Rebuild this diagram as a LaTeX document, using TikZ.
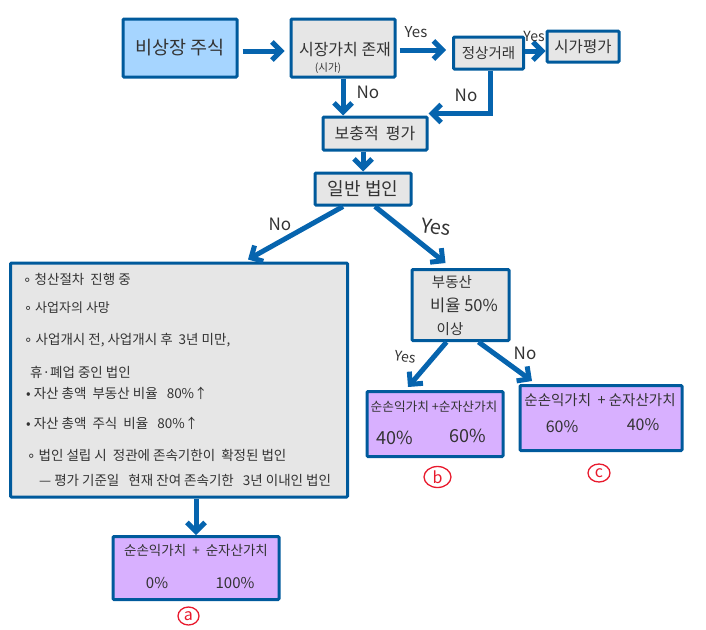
\documentclass[tikz,border=0pt]{standalone}
\usepackage{fontspec}
\setmainfont{Noto Sans CJK KR}
\newfontfamily\symfont{DejaVu Sans}
\usetikzlibrary{arrows.meta,shapes.geometric}
\usepackage{xcolor}
\definecolor{edgeblue}{HTML}{005A9C}
\definecolor{flowblue}{HTML}{0664AE}
\definecolor{startblue}{HTML}{A6D5FF}
\definecolor{boxgray}{HTML}{E6E6E6}
\definecolor{resultpurple}{HTML}{D8B0FF}
\definecolor{penink}{HTML}{333333}
\definecolor{markred}{HTML}{E8192C}
\newcommand{\ringdot}{{\symfont ∘}}
\tikzset{
    box/.style={draw=edgeblue,line width=3pt,rounded corners=1pt,fill=boxgray,text=penink,inner sep=0pt,align=center},
    startbox/.style={box,fill=startblue},
    resultbox/.style={box,fill=resultpurple},
    flow/.style={draw=flowblue,line width=5pt,-{Straight Barb[length=9pt,width=18pt]}},
    answer/.style={text=penink,inner sep=0pt,font=\fontsize{17}{19}\selectfont},
    smallanswer/.style={text=penink,inner sep=0pt,font=\fontsize{14}{16}\selectfont},
    item/.style={text=penink,inner sep=0pt,anchor=west,font=\fontsize{13.5}{15}\selectfont},
    restext/.style={text=penink,inner sep=0pt,font=\fontsize{15}{17}\selectfont},
    redmark/.style={draw=markred,text=markred,ellipse,line width=1.3pt,inner sep=0pt,font=\fontsize{16}{16}\selectfont}
}
\begin{document}
\begin{tikzpicture}[x=1pt,y=-1pt,>=latex]
            \useasboundingbox (0,0) rectangle (706,629);

            % draw the top row
            \node[startbox,minimum width=114pt,minimum height=58pt,font=\fontsize{18.5}{21}\selectfont] (unlisted) at (180,48) {비상장 주식};
            \node[box,minimum width=104pt,minimum height=58pt] (market) at (343,48) {};
            \node[text=penink,inner sep=0pt,font=\fontsize{16}{18}\selectfont] (markettext) at (345,50) {시장가치 존재};
            \node[text=penink,inner sep=0pt,font=\fontsize{10.5}{12}\selectfont] (marketprice) at (328,68) {(시가)};
            \node[box,minimum width=70pt,minimum height=32pt,font=\fontsize{14.5}{16}\selectfont] (trade) at (488.5,53) {정상거래};
            \node[box,minimum width=72pt,minimum height=31pt,font=\fontsize{15.5}{17}\selectfont] (quote) at (583,46.5) {시가평가};

            % draw the middle
            \node[box,minimum width=104pt,minimum height=33pt,font=\fontsize{16}{18}\selectfont] (supp) at (375,133.5) {보충적 \ 평가};
            \node[box,minimum width=96pt,minimum height=32pt,font=\fontsize{18}{20}\selectfont] (general) at (363,189) {일반 법인};

            % draw the list box
            \node[box,minimum width=337pt,minimum height=234pt] (special) at (179,380) {};
            \node[item] (l1) at (23,279) {\ringdot\ 청산절차 \ 진행 중};
            \node[item,font=\fontsize{13}{15}\selectfont] (l2) at (24,308) {\ringdot\ 사업자의 사망};
            \node[item] (l3) at (24,340) {\ringdot\ 사업개시 전, 사업개시 후 \ 3년 미만,};
            \node[item] (l4) at (30,372) {휴·폐업 중인 법인};
            \node[item] (l5) at (26,393) {• 자산 총액 \ 부동산 비율 \ \ 80\%↑};
            \node[item] (l6) at (26,423) {• 자산 총액 \ 주식 \ 비율 \ \ 80\%↑};
            \node[item] (l7) at (27,455) {\ringdot\ 법인 설립 시 \ 정관에 존속기한이 \ 확정된 법인};
            \node[item,font=\fontsize{13.5}{15}\selectfont] (l8) at (39,480) {— 평가 기준일 \ \ 현재 잔여 존속기한 \ \ 3년 이내인 법인};

            % draw the right hand box
            \node[box,minimum width=97pt,minimum height=71pt] (estate) at (460.5,305) {};
            \node[text=penink,inner sep=0pt,font=\fontsize{14.5}{16}\selectfont] (estateone) at (452,282) {부동산};
            \node[text=penink,inner sep=0pt,font=\fontsize{16.5}{18}\selectfont] (estatetwo) at (464,305) {비율 50\%};
            \node[text=penink,inner sep=0pt,font=\fontsize{14.5}{16}\selectfont] (estatethree) at (450,329) {이상};

            % draw the results
            \node[resultbox,minimum width=166pt,minimum height=63pt] (resa) at (196,568) {};
            \node[resultbox,minimum width=136pt,minimum height=65pt] (resb) at (435,424) {};
            \node[resultbox,minimum width=162pt,minimum height=65pt] (resc) at (601,418) {};

            \node[restext,font=\fontsize{13.5}{15}\selectfont] (atitle) at (196,550) {순손익가치 \ + \ 순자산가치};
            \node[restext] (aleft) at (157,583) {0\%};
            \node[restext] (aright) at (235,583) {100\%};
            \node[restext,font=\fontsize{12.7}{14}\selectfont] (btitle) at (434,407) {순손익가치 +순자산가치};
            \node[restext,font=\fontsize{18}{20}\selectfont] (bleft) at (395,438) {40\%};
            \node[restext,font=\fontsize{18}{20}\selectfont] (bright) at (468,436) {60\%};
            \node[restext,font=\fontsize{14.5}{16}\selectfont] (ctitle) at (600,400) {순손익가치 \ + 순자산가치};
            \node[restext,font=\fontsize{16}{18}\selectfont] (cleft) at (562,427) {60\%};
            \node[restext,font=\fontsize{16}{18}\selectfont] (cright) at (643,425) {40\%};

            % draw the red marks
            \node[redmark,minimum width=21pt,minimum height=18pt] (marka) at (188.5,616) {a};
            \node[redmark,minimum width=27pt,minimum height=21pt] (markb) at (437.5,477) {b};
            \node[redmark,minimum width=22pt,minimum height=18pt] (markc) at (599,473) {c};

            % draw the connectors
            \draw[flow] ([xshift=4pt,yshift=-3pt]unlisted.east) -- ([xshift=-5pt,yshift=-3pt]market.west);
            \draw[flow] ([xshift=3pt,yshift=-2pt]market.east) -- ([xshift=-6pt,yshift=3pt]trade.west);
            \draw[flow] ([yshift=2pt]trade.east) -- ([yshift=-4.5pt]quote.west);
            \draw[flow] (market.south) -- (market.south |- supp.north);
            \draw[flow] ([xshift=2pt]trade.south) |- ([yshift=2pt]supp.north east);
            \draw[flow] ([xshift=-12pt]supp.south) -- (general.north);
            \draw[flow] ([xshift=-20pt]general.south) -- ([xshift=69pt,yshift=2pt]special.north);
            \draw[flow] ([xshift=12pt]general.south) -- ([xshift=-15pt,yshift=5pt]estate.north);
            \draw[flow] ([xshift=-14pt]estate.south) -- ([xshift=-27pt,yshift=3pt]resb.north);
            \draw[flow] ([xshift=18pt]estate.south) -- ([xshift=-69pt,yshift=3pt]resc.north);
            \draw[flow] (resa.north |- special.south) -- (resa.north);

            % text at the arrows
            \node[answer,font=\fontsize{15}{17}\selectfont] (yes1) at (416,32) {Yes};
            \node[smallanswer] (yes2) at (534,36) {Yes};
            \node[answer] (no1) at (368,92) {No};
            \node[answer] (no2) at (466,95) {No};
            \node[answer] (no3) at (280,224) {No};
            \node[answer,font=\fontsize{20}{22}\selectfont,rotate=-8] (yes3) at (436,227) {Yes};
            \node[smallanswer,rotate=-8] (yes4) at (405,357) {Yes};
            \node[answer] (no4) at (525,353) {No};
\end{tikzpicture}
\end{document}
